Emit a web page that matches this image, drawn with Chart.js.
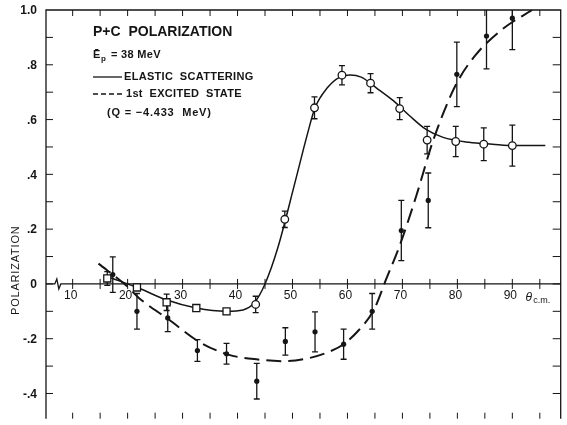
<!DOCTYPE html>
<html>
<head>
  <meta charset="UTF-8" />
  <title>P+C Polarization</title>
  <script src="https://cdn.jsdelivr.net/npm/chart.js"></script>
  <style>
    body { margin: 0; background: #fff; }
    #wrap { width: 567px; height: 425px; }
  </style>
</head>
<body>
  <div id="wrap"><canvas id="polChart" width="567" height="425"></canvas></div>

  <script>
    // measured points, theta (c.m. degrees) vs polarization
    const elasticTheta = [16.3, 21.7, 27.1, 32.5, 38.0, 43.3, 48.6, 54.0, 59.0, 64.2, 69.5, 74.5, 79.7, 84.8, 90.0];
    const elasticP     = [0.02, -0.013, -0.067, -0.088, -0.10, -0.075, 0.236, 0.643, 0.762, 0.733, 0.64, 0.525, 0.52, 0.51, 0.505];
    const elasticErr   = [0.025, 0.01, 0.03, 0.01, 0.01, 0.03, 0.03, 0.04, 0.035, 0.035, 0.04, 0.05, 0.055, 0.06, 0.075];

    const excitedTheta = [17.3, 21.7, 27.3, 32.7, 38.0, 43.5, 48.7, 54.1, 59.3, 64.5, 69.8, 74.7, 79.9, 85.3, 90.0];
    const excitedP     = [0.034, -0.10, -0.124, -0.243, -0.255, -0.355, -0.21, -0.175, -0.22, -0.10, 0.195, 0.305, 0.765, 0.905, 0.97];
    const excitedErr   = [0.065, 0.065, 0.05, 0.04, 0.038, 0.065, 0.05, 0.073, 0.055, 0.065, 0.11, 0.1, 0.118, 0.12, 0.115];

    const elasticCurveTheta = [16.5, 22, 27, 32.5, 38, 41, 43, 45, 47.3, 50.4, 52.7, 54.1, 56.3, 58.6, 60.5, 62.5, 65.3, 68.4, 71.3, 74.3, 77.4, 82.1, 86.4, 90.5, 96];
    const elasticCurveP     = [0.025, -0.015, -0.058, -0.088, -0.1, -0.095, -0.07, 0, 0.13, 0.366, 0.546, 0.643, 0.715, 0.755, 0.763, 0.755, 0.715, 0.668, 0.614, 0.564, 0.535, 0.517, 0.51, 0.505, 0.505];

    const excitedCurveTheta = [14.7, 19.7, 22.1, 27.5, 32.9, 38.3, 43.7, 48.6, 53.2, 57, 59.3, 62, 64.8, 67.1, 69.5, 72.5, 75.6, 79.7, 83.3, 88.2, 93.6];
    const excitedCurveP     = [0.074, -0.005, -0.052, -0.13, -0.21, -0.258, -0.276, -0.282, -0.27, -0.245, -0.22, -0.17, -0.095, 0.02, 0.14, 0.32, 0.524, 0.726, 0.835, 0.93, 1.0];

    const xTickLabels = [10, 20, 30, 40, 50, 60, 70, 80, 90];
    const yTickLabels = ['1.0', '.8', '.6', '.4', '.2', '0', '-.2', '-.4'];
    const yTickValues = [1.0, 0.8, 0.6, 0.4, 0.2, 0, -0.2, -0.4];

    const INK = '#151515';
    const FONT = '"Liberation Sans", Arial, sans-serif';

    const pts = (xs, ys) => xs.map((x, i) => ({ x: x, y: ys[i] }));

    const errorBars = {
      id: 'errorBars',
      beforeDatasetsDraw(chart) {
        const ctx = chart.ctx, y = chart.scales.y, area = chart.chartArea;
        ctx.save();
        ctx.beginPath();
        ctx.rect(area.left, area.top, area.right - area.left, area.bottom - area.top);
        ctx.clip();
        ctx.strokeStyle = INK;
        ctx.lineWidth = 1.3;
        chart.data.datasets.forEach((ds, di) => {
          if (!ds.errors) return;
          chart.getDatasetMeta(di).data.forEach((el, i) => {
            const v = ds.data[i].y, e = ds.errors[i];
            const top = y.getPixelForValue(v + e), bot = y.getPixelForValue(v - e);
            ctx.beginPath();
            ctx.moveTo(el.x, top); ctx.lineTo(el.x, bot);
            ctx.moveTo(el.x - 3, top); ctx.lineTo(el.x + 3, top);
            ctx.moveTo(el.x - 3, bot); ctx.lineTo(el.x + 3, bot);
            ctx.stroke();
          });
        });
        ctx.restore();
      }
    };

    const paperAxes = {
      id: 'paperAxes',
      beforeDatasetsDraw(chart) {
        const ctx = chart.ctx, xs = chart.scales.x, ys = chart.scales.y, a = chart.chartArea;
        const y0 = ys.getPixelForValue(0);
        ctx.save();
        ctx.strokeStyle = INK;
        ctx.fillStyle = INK;
        ctx.lineWidth = 1.3;

        // frame (bottom runs off the page)
        ctx.beginPath();
        ctx.moveTo(a.left, a.bottom); ctx.lineTo(a.left, a.top);
        ctx.lineTo(a.right, a.top); ctx.lineTo(a.right, a.bottom);
        ctx.stroke();

        ctx.lineWidth = 1;
        ctx.beginPath();
        for (let t = 10; t <= 95; t += 5) {
          const px = xs.getPixelForValue(t);
          ctx.moveTo(px, a.top); ctx.lineTo(px, a.top + 6);
          ctx.moveTo(px, a.bottom); ctx.lineTo(px, a.bottom - 6);
          ctx.moveTo(px, y0 - 5); ctx.lineTo(px, y0 + 5);
        }
        for (let k = -4; k <= 9; k++) {
          const py = ys.getPixelForValue(k / 10);
          ctx.moveTo(a.left, py); ctx.lineTo(a.left + 7, py);
          ctx.moveTo(a.right, py); ctx.lineTo(a.right - 8, py);
        }
        ctx.stroke();

        // zero line with axis break
        const bx = xs.getPixelForValue(7.3);
        ctx.lineWidth = 1.3;
        ctx.beginPath();
        ctx.moveTo(a.left, y0); ctx.lineTo(bx - 3, y0);
        ctx.lineTo(bx - 1, y0 - 5); ctx.lineTo(bx + 1, y0 + 5);
        ctx.lineTo(bx + 3, y0); ctx.lineTo(a.right, y0);
        ctx.stroke();

        // tick labels
        ctx.font = '12px ' + FONT;
        ctx.textAlign = 'center';
        ctx.textBaseline = 'middle';
        xTickLabels.forEach(t => ctx.fillText(String(t), xs.getPixelForValue(t) - 2, y0 + 12));
        ctx.font = 'bold 12px ' + FONT;
        ctx.textAlign = 'right';
        yTickValues.forEach((v, i) => ctx.fillText(yTickLabels[i], a.left - 9, ys.getPixelForValue(v) + 1));

        ctx.font = 'italic 12px ' + FONT;
        ctx.textAlign = 'left';
        ctx.fillText('\u03b8', xs.getPixelForValue(92.4), y0 + 14);
        ctx.font = '9px ' + FONT;
        ctx.fillText('c.m.', xs.getPixelForValue(93.8), y0 + 17);

        // axis title
        ctx.save();
        ctx.translate(16, ys.getPixelForValue(0.05));
        ctx.rotate(-Math.PI / 2);
        ctx.textAlign = 'center';
        ctx.font = '11px ' + FONT;
        ctx.letterSpacing = '0.8px';
        ctx.fillText('POLARIZATION', 0, 0);
        ctx.restore();

        // key block
        ctx.textAlign = 'left';
        ctx.letterSpacing = '0px';
        ctx.font = 'bold 14px ' + FONT;
        ctx.fillText('P+C  POLARIZATION', 93, 32);
        ctx.font = 'bold 11px ' + FONT;
        ctx.letterSpacing = '0.3px';
        ctx.fillText('\u0112', 93, 55);
        ctx.font = 'bold 8px ' + FONT;
        ctx.fillText('p', 101, 59);
        ctx.font = 'bold 11px ' + FONT;
        ctx.fillText('= 38 MeV', 111, 55);
        ctx.fillText('ELASTIC  SCATTERING', 124, 77);
        ctx.fillText('1st  EXCITED  STATE', 126, 94);
        ctx.letterSpacing = '0.8px';
        ctx.fillText('(Q = \u22124.433  MeV)', 107, 113);
        ctx.lineWidth = 1.3;
        ctx.beginPath();
        ctx.moveTo(93, 77); ctx.lineTo(122, 77);
        ctx.stroke();
        ctx.setLineDash([5, 3]);
        ctx.lineWidth = 1.6;
        ctx.beginPath();
        ctx.moveTo(93, 94); ctx.lineTo(123, 94);
        ctx.stroke();
        ctx.restore();
      }
    };

    new Chart(document.getElementById('polChart'), {
      type: 'scatter',
      data: {
        datasets: [
          {
            label: 'Elastic data',
            data: pts(elasticTheta, elasticP),
            errors: elasticErr,
            pointStyle: c => (c.raw && c.raw.x < 40 ? 'rect' : 'circle'),
            pointRadius: c => (c.raw && c.raw.x < 40 ? 5 : 3.8),
            backgroundColor: '#fff',
            borderColor: INK,
            borderWidth: 1.3,
            order: 0
          },
          {
            label: '1st excited data',
            data: pts(excitedTheta, excitedP),
            errors: excitedErr,
            pointRadius: 2.6,
            backgroundColor: INK,
            borderColor: INK,
            borderWidth: 0,
            order: 0
          },
          {
            label: 'Elastic scattering',
            data: pts(elasticCurveTheta, elasticCurveP),
            showLine: true,
            pointRadius: 0,
            borderColor: INK,
            borderWidth: 1.5,
            cubicInterpolationMode: 'monotone',
            order: 1
          },
          {
            label: '1st excited state',
            data: pts(excitedCurveTheta, excitedCurveP),
            showLine: true,
            pointRadius: 0,
            borderColor: INK,
            borderWidth: 2,
            borderDash: [15, 7],
            cubicInterpolationMode: 'monotone',
            order: 1
          }
        ]
      },
      options: {
        responsive: false,
        animation: false,
        layout: { padding: { left: 46, top: 10, right: 1, bottom: 0 } },
        scales: {
          x: { type: 'linear', min: 5.15, max: 98.8, display: false },
          y: { type: 'linear', min: -0.492, max: 1.0, display: false }
        },
        plugins: {
          legend: { display: false },
          tooltip: { enabled: false }
        }
      },
      plugins: [paperAxes, errorBars]
    });
  </script>
</body>
</html>
